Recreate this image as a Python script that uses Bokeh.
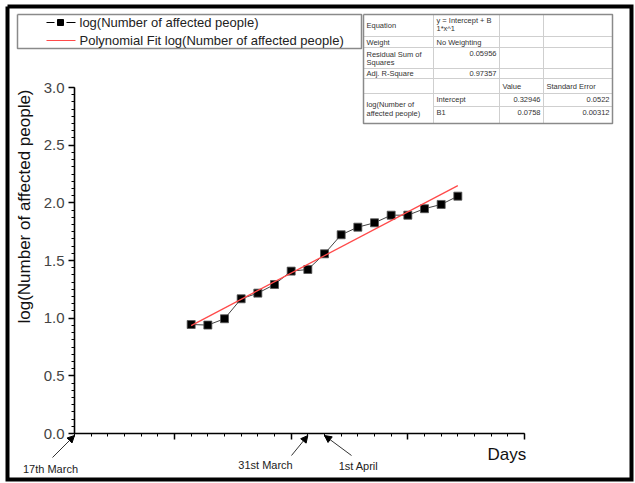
import numpy as np
from bokeh.plotting import figure
from bokeh.models import (Range1d, LinearAxis, SingleIntervalTicker, NumeralTickFormatter,
                          Label, Arrow, NormalHead)
from bokeh.embed import file_html
from bokeh.resources import INLINE

# ---------------- data ----------------
days = list(range(8, 25))
log_affected = [0.945, 0.94, 0.995, 1.168, 1.217, 1.292, 1.408, 1.422, 1.558,
                1.723, 1.789, 1.827, 1.893, 1.893, 1.949, 1.986, 2.058]
fit_intercept = 0.32946
fit_slope = 0.0758
fit_intercept_se = 0.0522
fit_slope_se = 0.00312
residual_ss = 0.05956
adj_r2 = 0.97357
date_labels = ["17th March", "31st March", "1st April"]
date_days = [1, 15, 16]

# ---------------- geometry (pixels) ----------------
W, H = 635, 483
PX_X0, PX_X1 = 74, 524     # pixel columns of x=1 and x=28
PX_Y0, PX_Y1 = 433, 87     # pixel rows of y=0 and y=3
X_MIN, X_MAX = 1, 28
Y_MIN, Y_MAX = 0.0, 3.0
sx = (PX_X1 - PX_X0) / (X_MAX - X_MIN)
sy = (PX_Y0 - PX_Y1) / (Y_MAX - Y_MIN)


def X(px):
    return X_MIN + (px - PX_X0) / sx


def Y(py):
    return Y_MIN + (PX_Y0 - py) / sy


FONT = "Liberation Sans"

p = figure(width=W, height=H, x_range=Range1d(X(0), X(W)), y_range=Range1d(Y(H), Y(0)),
           x_axis_type=None, y_axis_type=None, toolbar_location=None,
           output_backend="svg", min_border=0, outline_line_color=None)
p.background_fill_color = "white"
p.border_fill_color = "white"

# ---------------- axes ----------------
yaxis = LinearAxis(fixed_location=X_MIN, bounds=(Y_MIN, Y_MAX),
                   ticker=SingleIntervalTicker(interval=0.5, num_minor_ticks=8),
                   formatter=NumeralTickFormatter(format="0.0"))
yaxis.axis_line_width = 1.6
yaxis.axis_line_color = "black"
yaxis.major_tick_in = 0
yaxis.major_tick_out = 6
yaxis.minor_tick_in = 0
yaxis.minor_tick_out = 3
yaxis.major_tick_line_width = 1.5
yaxis.minor_tick_line_width = 1
yaxis.major_label_text_font = FONT
yaxis.major_label_text_font_size = "15px"
yaxis.major_label_text_color = "#444444"
yaxis.major_label_standoff = 4
p.add_layout(yaxis, "left")

xaxis = LinearAxis(fixed_location=Y_MIN, bounds=(X_MIN, X_MAX),
                   ticker=SingleIntervalTicker(interval=7, num_minor_ticks=7))
xaxis.major_label_overrides = {0: "", 7: "", 14: "", 21: "", 28: "", 35: ""}
xaxis.axis_line_width = 1.6
xaxis.axis_line_color = "black"
xaxis.major_tick_in = 0
xaxis.major_tick_out = 6
xaxis.minor_tick_in = 0
xaxis.minor_tick_out = 3
xaxis.major_tick_line_width = 1.5
xaxis.minor_tick_line_width = 1
p.add_layout(xaxis, "below")

# ---------------- data series ----------------
p.line(days, log_affected, line_color="#444444", line_width=1)
p.scatter(days, log_affected, marker="square", size=8, fill_color="black",
          line_color="#555555", line_width=0.8)
fit_x = [min(days), max(days)]
fit_y = [fit_intercept + fit_slope * d for d in fit_x]
p.line(fit_x, fit_y, line_color="#ff4a4a", line_width=1.3)

# ---------------- outer frame ----------------
fx = [X(7), X(631), X(631), X(7), X(7)]
fy = [Y(6), Y(6), Y(479), Y(479), Y(6)]
p.line(fx, fy, line_color="black", line_width=4, line_join="miter")


def label(txt, px, py, size, align="left", color="#222222", angle=0, baseline="middle"):
    p.add_layout(Label(x=X(px), y=Y(py), text=txt, text_font=FONT,
                       text_font_size=f"{size}px", text_color=color,
                       text_align=align, text_baseline=baseline, angle=angle))


# ---------------- axis titles ----------------
label("log(Number of affected people)", 24, 206, 17, align="center",
      color="#111111", angle=np.pi / 2)
label("Days", 487, 454, 17, color="#111111")

# ---------------- date annotations ----------------
date_text_pos = [(50, 468), (265, 464), (358, 465)]
arrow_tails = [(52, 457), (291, 455), (351, 455)]
for txt, d, (tx, ty), (ax, ay) in zip(date_labels, date_days, date_text_pos, arrow_tails):
    label(txt, tx, ty, 11, align="center")
    p.add_layout(Arrow(end=NormalHead(size=7, fill_color="black", line_color="black"),
                       x_start=X(ax), y_start=Y(ay), x_end=d, y_end=Y(435),
                       line_color="#333333", line_width=1))

# ---------------- legend box ----------------
lx = [X(17), X(361), X(361), X(17), X(17)]
ly = [Y(14), Y(14), Y(48), Y(48), Y(14)]
p.line(lx, ly, line_color="#8a8a8a", line_width=1.5)
p.line([X(46), X(54)], [Y(22), Y(22)], line_color="black", line_width=1.2)
p.line([X(66), X(75)], [Y(22), Y(22)], line_color="black", line_width=1.2)
p.scatter([X(60)], [Y(22)], marker="square", size=6, fill_color="black", line_color="black")
p.line([X(46), X(75)], [Y(40), Y(40)], line_color="#ff4a4a", line_width=1.2)
label("log(Number of affected people)", 79, 22, 13)
label("Polynomial Fit log(Number of affected people)", 79, 40, 13)

# ---------------- fit table ----------------
TL, TR, TT, TB = 363, 612, 14, 123
inner = "#cfcfcf"
for yy in [36, 47, 68, 78, 93]:
    p.line([X(TL), X(TR)], [Y(yy), Y(yy)], line_color=inner, line_width=1)
p.line([X(433), X(TR)], [Y(106), Y(106)], line_color=inner, line_width=1)
for xx in [433, 499, 543]:
    p.line([X(xx), X(xx)], [Y(TT), Y(TB)], line_color=inner, line_width=1)
p.line([X(TL), X(TR), X(TR), X(TL), X(TL)], [Y(TT), Y(TT), Y(TB), Y(TB), Y(TT)],
       line_color="#8a8a8a", line_width=1.5)

TS = 7.5
TC = "#333333"
label("Equation", 366, 25, TS, color=TC)
label("y = Intercept + B", 436, 20, TS, color=TC)
label("1*x^1", 436, 28, TS, color=TC)
label("Weight", 366, 42, TS, color=TC)
label("No Weighting", 436, 42, TS, color=TC)
label("Residual Sum of", 366, 54, TS, color=TC)
label("Squares", 366, 62, TS, color=TC)
label(f"{residual_ss:.5f}", 496, 53, TS, align="right", color=TC)
label("Adj. R-Square", 366, 73, TS, color=TC)
label(f"{adj_r2:.5f}", 496, 73, TS, align="right", color=TC)
label("Value", 502, 86, TS, color=TC)
label("Standard Error", 546, 86, TS, color=TC)
label("log(Number of", 366, 104, TS, color=TC)
label("affected people)", 366, 113, TS, color=TC)
label("Intercept", 436, 99, TS, color=TC)
label(f"{fit_intercept:.5f}", 540, 99, TS, align="right", color=TC)
label(f"{fit_intercept_se}", 609, 99, TS, align="right", color=TC)
label("B1", 436, 112, TS, color=TC)
label(f"{fit_slope}", 540, 112, TS, align="right", color=TC)
label(f"{fit_slope_se}", 609, 112, TS, align="right", color=TC)

open("out.html", "w").write(file_html(p, INLINE))
